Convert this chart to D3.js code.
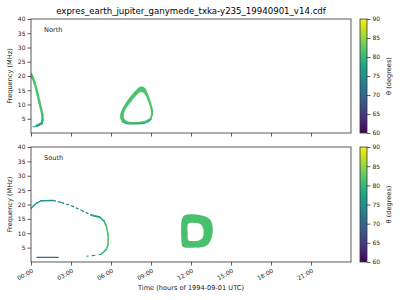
<!DOCTYPE html>
<html>
<head>
<meta charset="utf-8">
<script src="https://cdn.jsdelivr.net/npm/d3@7"></script>
<style>
  html, body { margin: 0; padding: 0; background: #fff; }
  svg { display: block; font-family: "DejaVu Sans", sans-serif; }
</style>
</head>
<body>
<svg id="chart" width="400" height="300"></svg>
<script>
// ---------------- data ----------------
const titleText = "expres_earth_jupiter_ganymede_txka-y235_19940901_v14.cdf";
const timeTicks = [0, 3, 6, 9, 12, 15, 18, 21];
const timeTickLabels = ["00:00", "03:00", "06:00", "09:00", "12:00", "15:00", "18:00", "21:00"];
const freqTicks = [5, 10, 15, 20, 25, 30, 35, 40];
const thetaTicks = [60, 65, 70, 75, 80, 85, 90];

// North: left arc (hours, MHz, degrees)
const northArcT = [0.02, 0.12, 0.25, 0.38, 0.5, 0.62, 0.75, 0.85, 0.86, 0.8, 0.6, 0.4];
const northArcF = [20.6, 19.5, 17.8, 15.8, 13.5, 11.0, 8.5, 6.5, 4.5, 3.4, 2.9, 2.5];
const northArcTheta = [81, 81.5, 81.5, 81.5, 81.5, 81.5, 81.5, 81.5, 80, 79, 78, 77];
const northDashT = [0.15, 0.3];
const northDashF = [2.2, 2.2];
const northDashTheta = [76, 76];

// North: ring near 06:00-09:00
const northRingOuterT = [8.23, 8.55, 8.8, 9.05, 9.17, 9.05, 8.68, 7.93, 7.18, 6.8, 6.68, 6.72, 6.88, 7.18, 7.67, 8.0];
const northRingOuterF = [16.3, 15.8, 13.4, 9.9, 7.0, 5.2, 3.7, 3.2, 3.3, 4.1, 5.6, 7.0, 8.75, 11.1, 14.0, 15.6];
const northRingInnerT = [8.23, 8.5, 8.8, 9.0, 8.92, 8.6, 7.93, 7.25, 6.98, 6.98, 7.12, 7.45, 7.82, 8.05];
const northRingInnerF = [14.4, 13.8, 11.0, 7.2, 5.4, 4.4, 3.9, 4.1, 5.2, 6.8, 8.5, 10.6, 12.7, 13.9];
const northRingTheta = 81.5;
const northRingBaseT = [6.8, 7.18, 7.93, 8.68, 9.05];
const northRingBaseF = [4.0, 3.3, 3.2, 3.7, 5.0];
const northRingBaseTheta = 78;

// South: arc (solid parts and sparse parts)
const southArcAT = [0.0, 0.2, 0.45, 0.75, 1.65];
const southArcAF = [18.6, 19.6, 20.6, 21.3, 21.4];
const southArcATheta = [77, 77, 76.5, 76, 75];
const southArcBT = [1.65, 2.27, 3.02, 3.77, 4.52];
const southArcBF = [21.4, 20.7, 19.6, 18.0, 16.3];
const southArcBTheta = [73.5, 73, 73, 72.5, 74];
const southArcCT = [4.52, 5.15, 5.48, 5.65, 5.78, 5.78, 5.65, 5.27];
const southArcCF = [16.3, 15.6, 14.2, 12.5, 9.6, 6.1, 4.4, 2.7];
const southArcCTheta = [75, 77, 79, 81, 82, 82, 81, 79];
const southArcDT = [5.27, 4.78, 4.15];
const southArcDF = [2.7, 2.3, 2.0];
const southArcDTheta = [78, 76, 73];
const southLowT = [0.45, 2.03];
const southLowF = [1.6, 1.6];
const southLowTheta = [70, 70];

// South: ring near 12:00
const southRingOuterT = [11.3, 11.45, 11.7, 12.2, 12.7, 13.2, 13.5, 13.63, 13.6, 13.45, 13.2, 12.8, 12.2, 11.6, 11.35, 11.3];
const southRingOuterF = [14.5, 16.0, 16.5, 16.6, 16.3, 15.6, 14.3, 12.0, 9.5, 7.3, 5.8, 5.1, 5.0, 5.0, 5.5, 6.5];
const southRingInnerT = [11.8, 12.3, 12.7, 12.9, 12.95, 12.85, 12.5, 12.0, 11.8, 11.75];
const southRingInnerF = [13.3, 13.6, 13.2, 11.8, 10.0, 8.3, 7.4, 7.3, 7.6, 10.0];
const southRingTheta = 81.3;

// ---------------- drawing ----------------
const svg = d3.select("#chart");
const left = 31, right = 351;
const panels = [
  { top: 19, bottom: 133, name: "North" },
  { top: 147, bottom: 262, name: "South" }
];
const cbX = 360, cbW = 7;
const axisColor = "#333";

const x = d3.scaleLinear().domain([0, 24]).range([left, right]);
const color = d3.scaleSequential(d3.interpolateViridis).domain([60, 90]);

// gradient for colorbar
const defs = svg.append("defs");
const grad = defs.append("linearGradient").attr("id", "viridisGrad")
  .attr("x1", 0).attr("y1", 1).attr("x2", 0).attr("y2", 0);
d3.range(0, 1.0001, 0.05).forEach(s => {
  grad.append("stop").attr("offset", s).attr("stop-color", d3.interpolateViridis(s));
});

svg.append("text")
  .attr("x", (left + right) / 2).attr("y", 14)
  .attr("text-anchor", "middle")
  .attr("font-size", 8.6).attr("fill", "#000")
  .text(titleText);

function drawSegments(g, y, T, F, TH, width, dash) {
  for (let i = 0; i < T.length - 1; i++) {
    g.append("line")
      .attr("x1", x(T[i])).attr("y1", y(F[i]))
      .attr("x2", x(T[i + 1])).attr("y2", y(F[i + 1]))
      .attr("stroke", color((TH[i] + TH[i + 1]) / 2))
      .attr("stroke-width", width)
      .attr("stroke-linecap", dash ? "butt" : "round")
      .attr("stroke-dasharray", dash || null);
  }
}

function ringPath(y, oT, oF, iT, iF) {
  const line = d3.line().x(d => x(d[0])).y(d => y(d[1])).curve(d3.curveCatmullRomClosed);
  const outer = line(oT.map((t, i) => [t, oF[i]]));
  const inner = line(iT.map((t, i) => [t, iF[i]]));
  return outer + inner;
}

panels.forEach((p, idx) => {
  const y = d3.scaleLinear().domain([0, 40]).range([p.bottom, p.top]);
  const g = svg.append("g");

  const clipId = "clip" + idx;
  defs.append("clipPath").attr("id", clipId).append("rect")
    .attr("x", left).attr("y", p.top).attr("width", right - left).attr("height", p.bottom - p.top);
  const data = g.append("g").attr("clip-path", `url(#${clipId})`);

  if (idx === 0) {
    drawSegments(data, y, northArcT, northArcF, northArcTheta, 2.4, null);
    drawSegments(data, y, northDashT, northDashF, northDashTheta, 1.2, null);
    data.append("path")
      .attr("d", ringPath(y, northRingOuterT, northRingOuterF, northRingInnerT, northRingInnerF))
      .attr("fill", color(northRingTheta)).attr("fill-rule", "evenodd");
    data.append("path")
      .attr("d", d3.line().x(d => x(d[0])).y(d => y(d[1])).curve(d3.curveCatmullRom)(northRingBaseT.map((t, i) => [t, northRingBaseF[i]])))
      .attr("fill", "none").attr("stroke", color(northRingBaseTheta)).attr("stroke-width", 1.1);
  } else {
    drawSegments(data, y, southArcAT, southArcAF, southArcATheta, 1.4, null);
    drawSegments(data, y, southArcBT, southArcBF, southArcBTheta, 1.3, "3,2");
    drawSegments(data, y, southArcCT, southArcCF, southArcCTheta, 1.6, null);
    drawSegments(data, y, southArcDT, southArcDF, southArcDTheta, 1.2, "3,3");
    drawSegments(data, y, southLowT, southLowF, southLowTheta, 1.3, null);
    data.append("path")
      .attr("d", ringPath(y, southRingOuterT, southRingOuterF, southRingInnerT, southRingInnerF))
      .attr("fill", color(southRingTheta)).attr("fill-rule", "evenodd");
  }

  g.append("rect")
    .attr("x", left).attr("y", p.top).attr("width", right - left).attr("height", p.bottom - p.top)
    .attr("fill", "none").attr("stroke", axisColor).attr("stroke-width", 0.8);

  const yAxis = d3.axisLeft(y).tickValues(freqTicks).tickSize(3.5).tickPadding(2);
  const ya = g.append("g").attr("transform", `translate(${left},0)`).call(yAxis);
  ya.select(".domain").remove();
  ya.selectAll("line").attr("stroke", axisColor).attr("stroke-width", 0.8);
  ya.selectAll("text").attr("font-size", 6).attr("fill", "#222").attr("font-family", "DejaVu Sans");

  const xAxis = d3.axisBottom(x).tickValues(timeTicks).tickSize(3.5).tickFormat((d, i) => timeTickLabels[i]);
  const xa = g.append("g").attr("transform", `translate(0,${p.bottom})`).call(xAxis);
  xa.select(".domain").remove();
  xa.selectAll("line").attr("stroke", axisColor).attr("stroke-width", 0.8);
  if (idx === 0) {
    xa.selectAll("text").remove();
  } else {
    xa.selectAll("text")
      .attr("font-size", 6).attr("fill", "#222").attr("font-family", "DejaVu Sans")
      .attr("text-anchor", "end")
      .attr("y", 0).attr("dy", "0.75em")
      .attr("transform", "translate(0,6) rotate(-30)");
  }

  g.append("text")
    .attr("transform", `translate(12,${(p.top + p.bottom) / 2}) rotate(-90)`)
    .attr("text-anchor", "middle").attr("font-size", 6.6).attr("fill", "#222")
    .text("Frequency (MHz)");

  g.append("text").attr("x", 44).attr("y", p.top + 12.5)
    .attr("font-size", 6.6).attr("fill", "#222").text(p.name);

  const cy = d3.scaleLinear().domain([60, 90]).range([p.bottom, p.top]);
  g.append("rect").attr("x", cbX).attr("y", p.top).attr("width", cbW).attr("height", p.bottom - p.top)
    .attr("fill", "url(#viridisGrad)").attr("stroke", axisColor).attr("stroke-width", 0.8);
  const ca = g.append("g").attr("transform", `translate(${cbX + cbW},0)`)
    .call(d3.axisRight(cy).tickValues(thetaTicks).tickSize(3.5).tickPadding(2));
  ca.select(".domain").remove();
  ca.selectAll("line").attr("stroke", axisColor).attr("stroke-width", 0.8);
  ca.selectAll("text").attr("font-size", 6).attr("fill", "#222").attr("font-family", "DejaVu Sans");
  g.append("text")
    .attr("transform", `translate(391,${(p.top + p.bottom) / 2}) rotate(-90)`)
    .attr("text-anchor", "middle").attr("font-size", 6.6).attr("fill", "#222")
    .text("θ (degrees)");
});

svg.append("text")
  .attr("x", (left + right) / 2).attr("y", 290)
  .attr("text-anchor", "middle").attr("font-size", 6.6).attr("fill", "#222")
  .text("Time (hours of 1994-09-01 UTC)");
</script>
</body>
</html>
